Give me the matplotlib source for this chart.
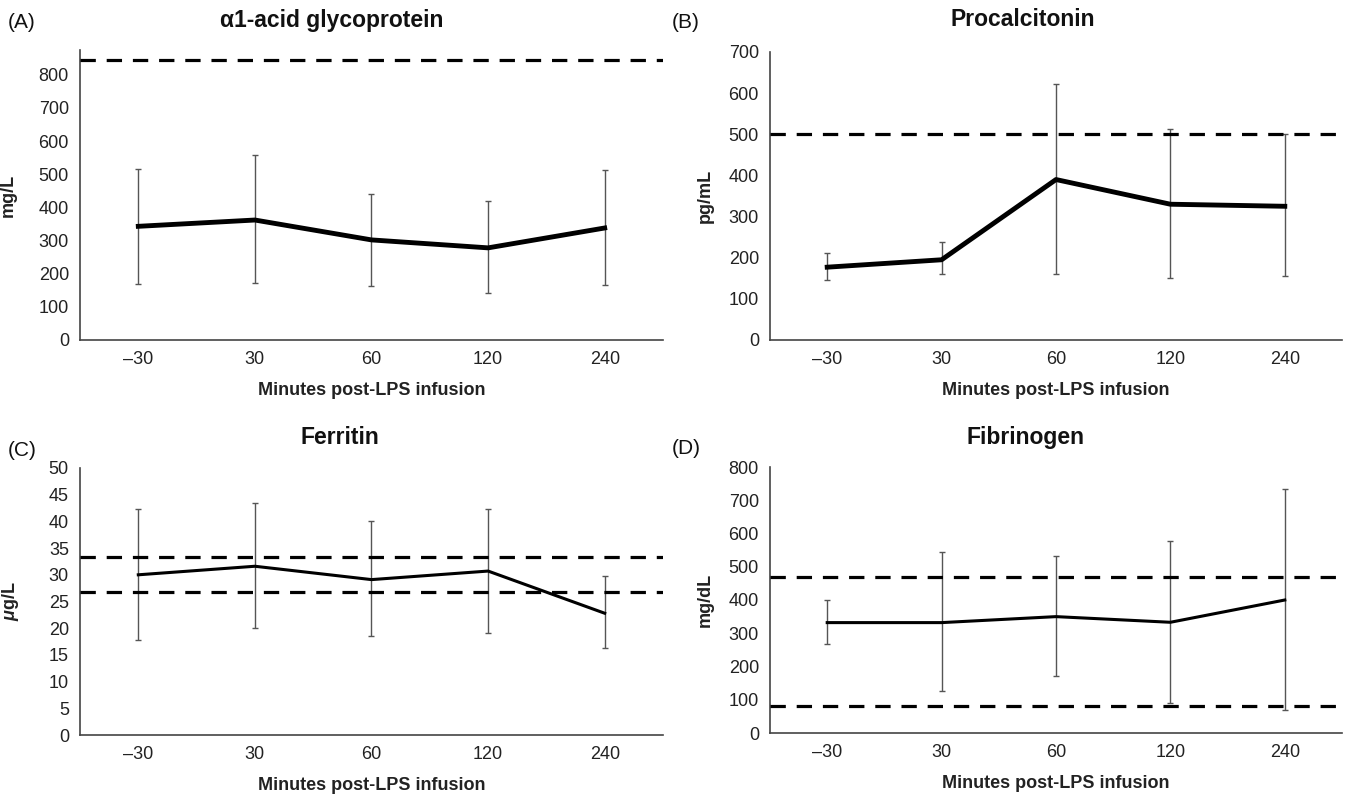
import numpy as np
import matplotlib.pyplot as plt

plt.rcParams['font.family'] = ['Liberation Sans', 'DejaVu Sans']
plt.rcParams['mathtext.fontset'] = 'custom'
plt.rcParams['mathtext.it'] = 'Liberation Sans:italic:bold'
plt.rcParams['mathtext.rm'] = 'Liberation Sans:bold'

# categories on the x axis
times = ['\u201330', '30', '60', '120', '240']

# (A) alpha1-acid glycoprotein, mg/L
agp_mean = [343, 362, 302, 278, 338]
agp_lo = [170, 173, 163, 141, 166]
agp_hi = [517, 558, 441, 418, 513]
agp_ref = [845]

# (B) procalcitonin, pg/mL
pct_mean = [177, 195, 390, 330, 325]
pct_lo = [145, 160, 160, 150, 155]
pct_hi = [212, 237, 623, 512, 500]
pct_ref = [500]

# (C) ferritin, ug/L
fer_mean = [30.0, 31.6, 29.1, 30.7, 22.8]
fer_lo = [17.8, 20.1, 18.5, 19.1, 16.2]
fer_hi = [42.3, 43.5, 40.1, 42.3, 29.7]
fer_ref = [33.3, 26.8]

# (D) fibrinogen, mg/dL
fib_mean = [332, 332, 350, 333, 400]
fib_lo = [268, 125, 170, 90, 68]
fib_hi = [400, 545, 533, 578, 733]
fib_ref = [470, 80]

panels = [
    ('(A)', '\u03b11-acid glycoprotein', 'mg/L', agp_mean, agp_lo, agp_hi, agp_ref,
     (0, 875), np.arange(0, 801, 100), 3.5),
    ('(B)', 'Procalcitonin', 'pg/mL', pct_mean, pct_lo, pct_hi, pct_ref,
     (0, 700), np.arange(0, 701, 100), 3.5),
    ('(C)', 'Ferritin', r'$\mu$g/L', fer_mean, fer_lo, fer_hi, fer_ref,
     (0, 50), np.arange(0, 51, 5), 2.2),
    ('(D)', 'Fibrinogen', 'mg/dL', fib_mean, fib_lo, fib_hi, fib_ref,
     (0, 800), np.arange(0, 801, 100), 2.2),
]

W, H = 1354, 798
# axes boxes in pixels: left, right, bottom, top
boxes = [(80, 663, 340, 50), (770, 1342, 340, 52),
         (80, 663, 735, 468), (770, 1342, 733, 467)]
tag_xy = [(8, 22), (672, 22), (8, 450), (672, 448)]
title_y = [21, 20, 437, 437]
title_shift = [40, 33, 32, 30]
ylab_x = [17, 714, 21, 714]

fig = plt.figure(figsize=(W / 100, H / 100), dpi=100)

for i, (tag, title, ylab, m, lo, hi, ref, ylim, yt, lw) in enumerate(panels):
    l, r, b, t = boxes[i]
    ax = fig.add_axes([l / W, 1 - b / H, (r - l) / W, (b - t) / H])
    x = np.arange(len(times))
    m = np.array(m)
    err = [m - np.array(lo), np.array(hi) - m]
    ax.errorbar(x, m, yerr=err, fmt='none', ecolor='#555555', elinewidth=1,
                capsize=2.5, capthick=1, zorder=2)
    ax.plot(x, m, color='black', lw=lw, zorder=3)
    for v in ref:
        ax.axhline(v, color='black', lw=2.3, ls=(0, (4.8, 3.4)), zorder=4)
    ax.set_xlim(-0.5, 4.5)
    ax.set_ylim(*ylim)
    ax.set_yticks(yt)
    ax.set_xticks(x)
    ax.set_xticklabels(times)
    ax.tick_params(length=0, labelsize=13, colors='#222222', pad=8)
    for s in ['top', 'right']:
        ax.spines[s].set_visible(False)
    for s in ['left', 'bottom']:
        ax.spines[s].set_color('#444444')
        ax.spines[s].set_linewidth(1.2)
    ax.set_xlabel('Minutes post-LPS infusion', fontsize=13, fontweight='bold',
                  color='#222222', labelpad=10)
    ax.set_ylabel(ylab, fontsize=13, fontweight='bold', color='#222222')
    ax.yaxis.set_label_coords((ylab_x[i] - l) / (r - l), 0.5)
    # title sits a little left of the plot centre
    fig.text(((l + r) / 2 - title_shift[i]) / W, 1 - title_y[i] / H, title,
             fontsize=16.5, fontweight='bold', color='#111111',
             ha='center', va='center')
    fig.text(tag_xy[i][0] / W, 1 - tag_xy[i][1] / H, tag, fontsize=15,
             color='#111111', va='center')

fig.savefig('out.png', dpi=100, facecolor='white')
